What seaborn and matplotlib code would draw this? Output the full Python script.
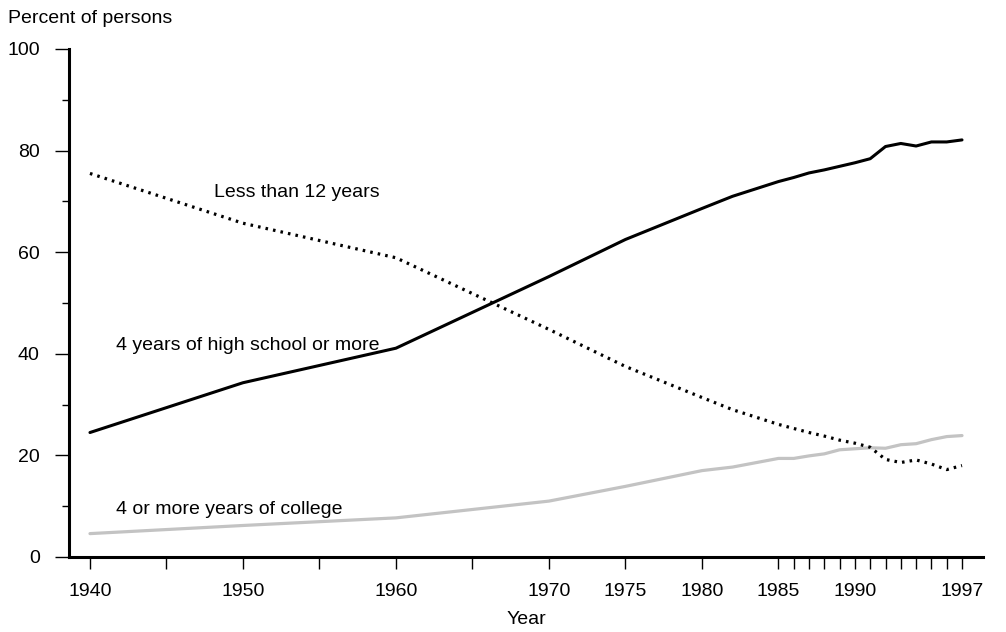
import numpy as np
import pandas as pd
import matplotlib
matplotlib.use("Agg")
import matplotlib.pyplot as plt
import seaborn as sns

# data
years = [1940, 1950, 1960, 1970, 1975, 1980, 1982, 1985, 1986, 1987, 1988,
         1989, 1990, 1991, 1992, 1993, 1994, 1995, 1996, 1997]
high_school = [24.5, 34.3, 41.1, 55.2, 62.5, 68.6, 71.0, 73.9, 74.7, 75.6, 76.2,
               76.9, 77.6, 78.4, 80.8, 81.4, 80.9, 81.7, 81.7, 82.1]
less_than_12 = [75.5, 65.7, 58.9, 44.8, 37.5, 31.4, 29.0, 26.1, 25.3, 24.5, 23.8,
                23.0, 22.4, 21.6, 19.2, 18.6, 19.1, 18.3, 17.2, 18.0]
college = [4.6, 6.2, 7.7, 11.0, 13.9, 17.0, 17.7, 19.4, 19.4, 19.9, 20.3,
           21.1, 21.3, 21.5, 21.4, 22.1, 22.3, 23.1, 23.7, 23.9]

major_years = [1940, 1950, 1960, 1970, 1975, 1980, 1985, 1990, 1997]
minor_years = [1945, 1955, 1965, 1986, 1987, 1988, 1989, 1991, 1992, 1993,
               1994, 1995, 1996]

df = pd.DataFrame({"year": years, "hs": high_school, "lt12": less_than_12,
                   "college": college})

sns.set_theme(style="ticks")
plt.rcParams['font.family'] = ['Liberation Sans', 'DejaVu Sans']
plt.rcParams.update({"text.color": "black", "axes.labelcolor": "black",
                     "xtick.color": "black", "ytick.color": "black"})

fig = plt.figure(figsize=(10.06, 6.32), dpi=100)
ax = fig.add_axes([0.0686, 0.1187, 0.9085, 0.8038])

sns.lineplot(data=df, x="year", y="college", ax=ax, color="#c3c3c3", linewidth=2.3)
sns.lineplot(data=df, x="year", y="lt12", ax=ax, color="black", linewidth=2.3,
             linestyle=(0, (0.8, 1.6)))
sns.lineplot(data=df, x="year", y="hs", ax=ax, color="black", linewidth=2.2)

ax.set_xlim(1938.63, 1998.37)
ax.set_ylim(0, 100)

ax.set_xticks(major_years)
ax.set_xticks(minor_years, minor=True)
ax.set_yticks([0, 20, 40, 60, 80, 100])
ax.set_yticks([10, 30, 50, 70, 90], minor=True)

sns.despine(ax=ax)
for side in ["left", "bottom"]:
    ax.spines[side].set_linewidth(2.2)
    ax.spines[side].set_color("black")

ax.tick_params(axis="y", which="major", length=10, width=1,
               labelsize=14, pad=11)
ax.tick_params(axis="y", which="minor", length=5, width=1)
ax.tick_params(axis="x", which="both", length=8.5, width=1,
               labelsize=14, pad=10)

ax.set_ylabel("")
ax.set_xlabel("Year", fontsize=14, labelpad=8)
fig.text(0.008, 0.97, "Percent of persons", fontsize=14, va="center", ha="left")

ax.text(1948.1, 71.7, "Less than 12 years", fontsize=14, va="center")
ax.text(1941.7, 41.7, "4 years of high school or more", fontsize=14, va="center")
ax.text(1941.7, 9.3, "4 or more years of college", fontsize=14, va="center")

fig.savefig("out.png", dpi=100, facecolor="white")
